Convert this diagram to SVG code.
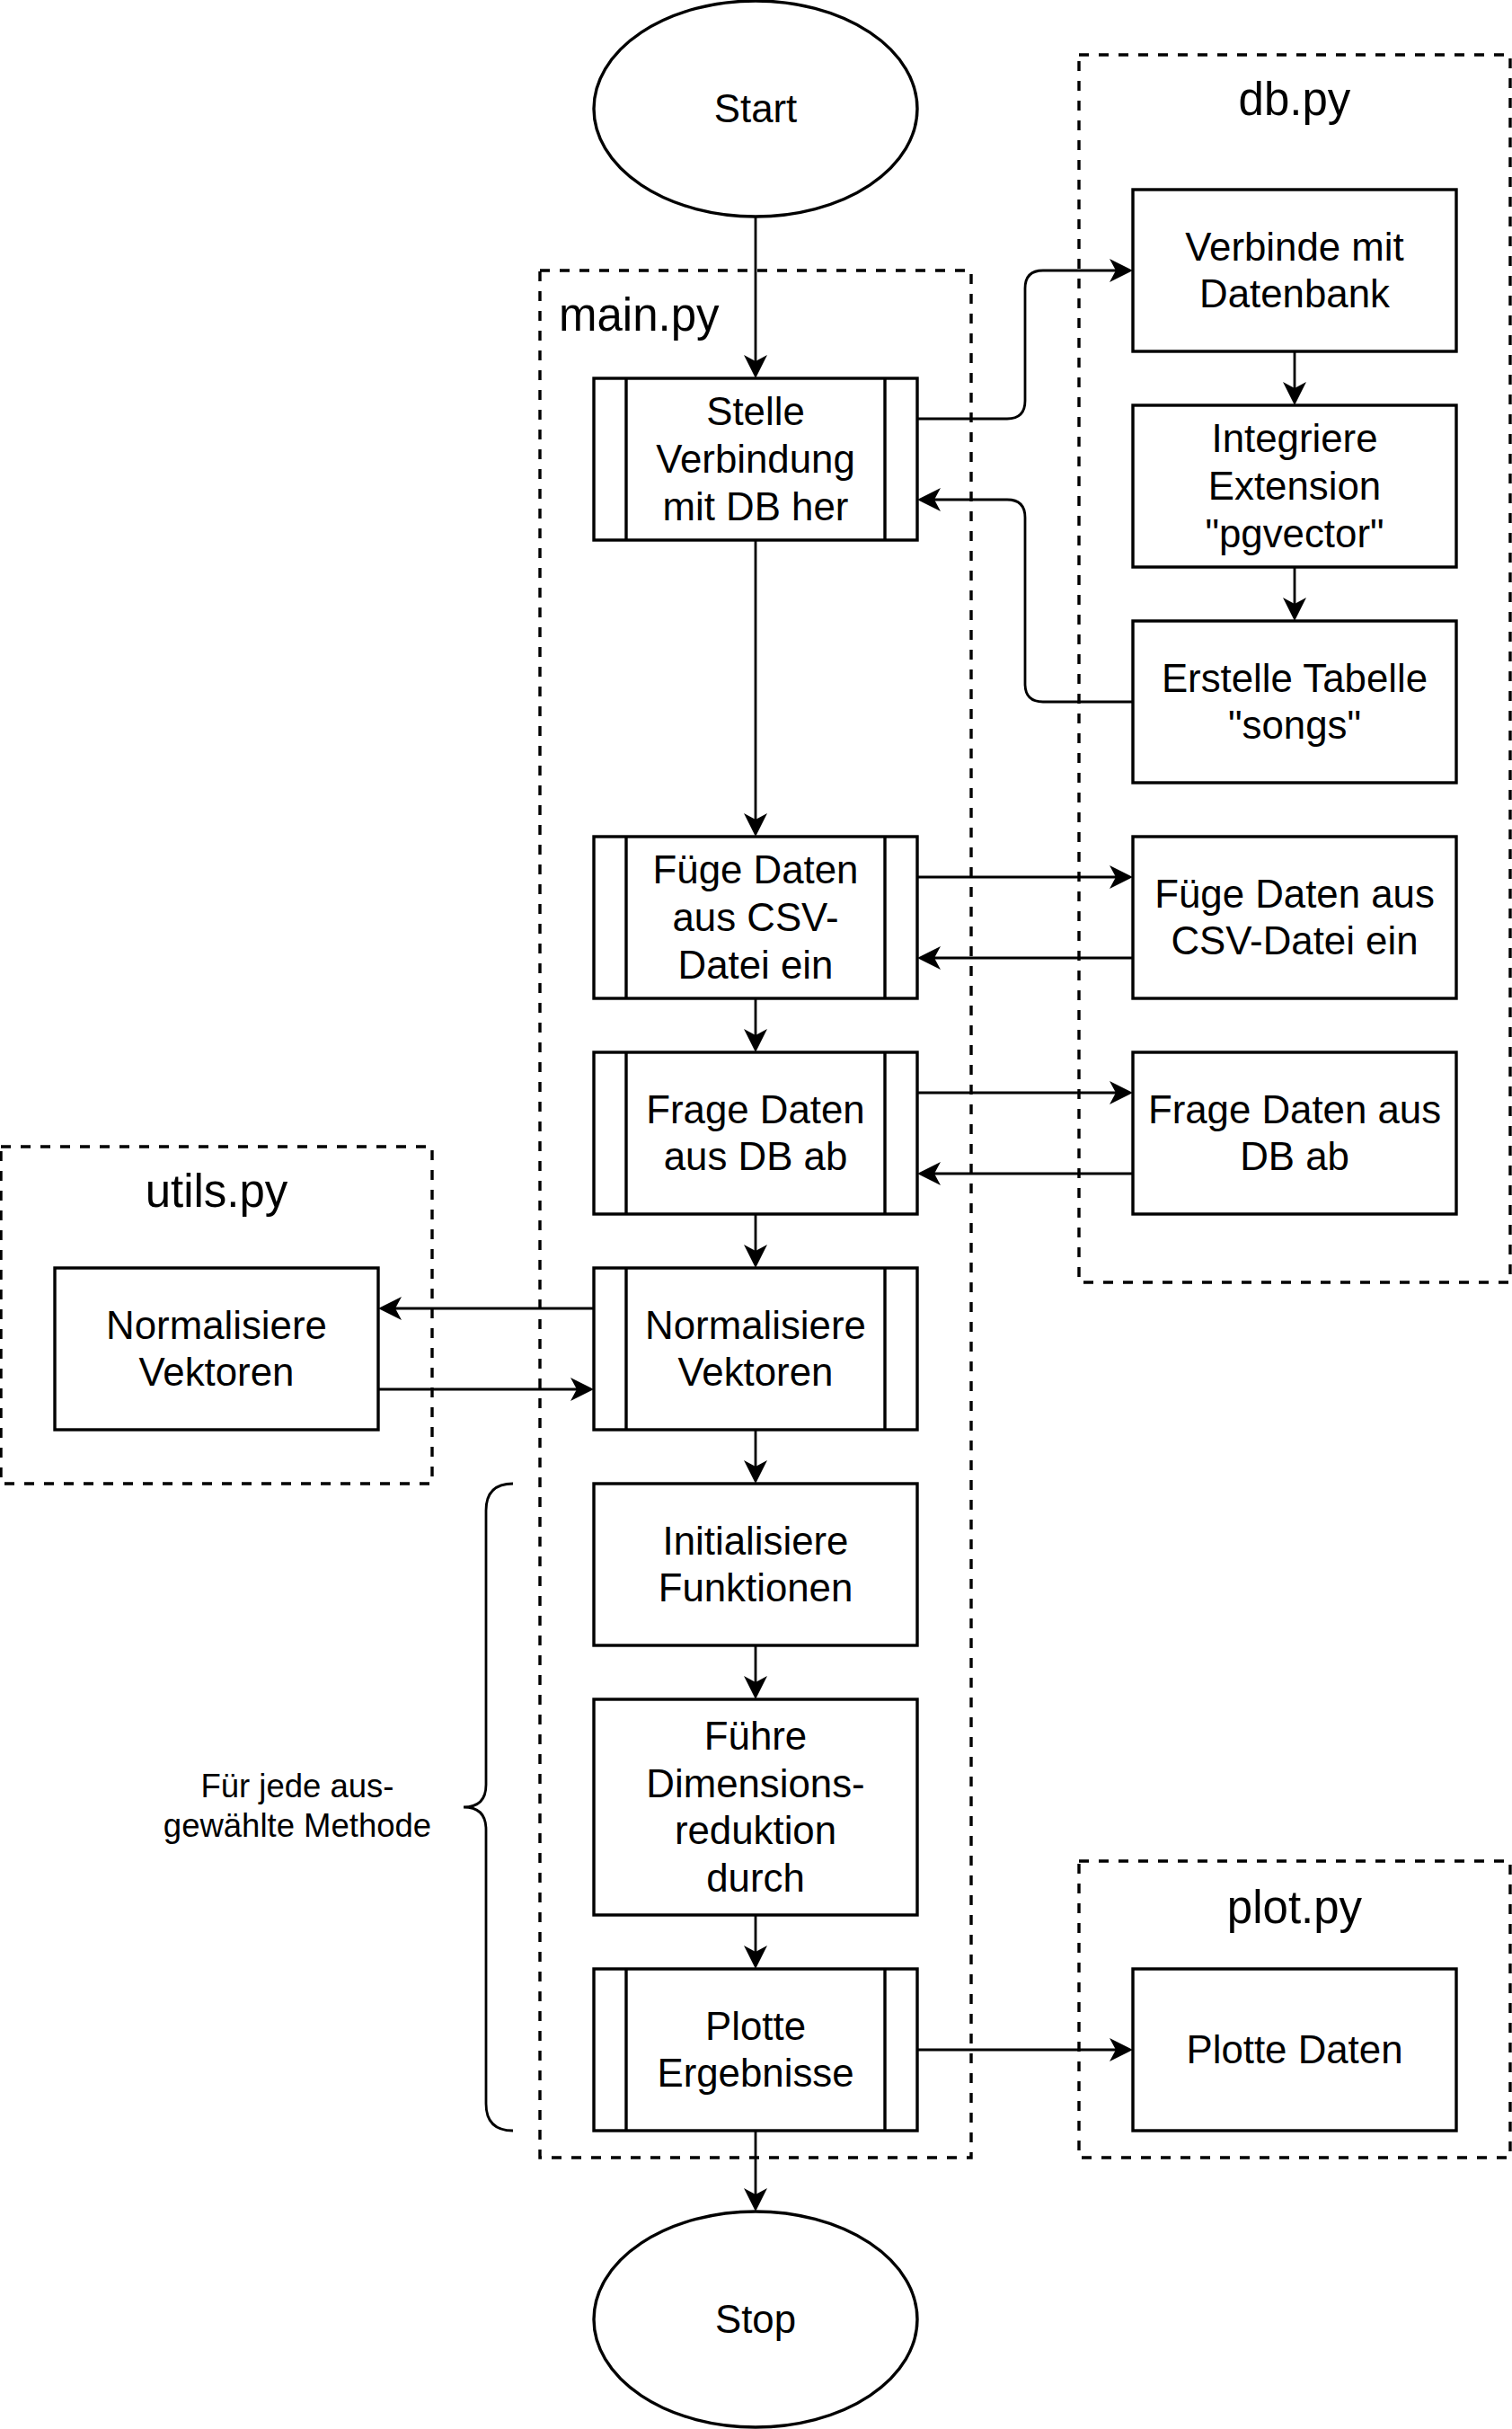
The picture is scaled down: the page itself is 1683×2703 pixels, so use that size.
<svg xmlns="http://www.w3.org/2000/svg" width="1683" height="2703" viewBox="0 0 1683 2703">
<style>
.bg{fill:#fff}
.node{fill:#fff;stroke:#000;stroke-width:3.4}
.inner{fill:none;stroke:#000;stroke-width:3.4}
.grp{fill:none;stroke:#000;stroke-width:3.4;stroke-dasharray:11 11}
.edge{fill:none;stroke:#000;stroke-width:2.8}
.t{font-family:"Liberation Sans",Arial,Helvetica,sans-serif;font-size:43.8px;text-anchor:middle;fill:#000}
.title{font-family:"Liberation Sans",Arial,Helvetica,sans-serif;font-size:51px;fill:#000}
.small{font-family:"Liberation Sans",Arial,Helvetica,sans-serif;font-size:36.5px;text-anchor:middle;fill:#000}
</style>
<defs>
<marker id="arr" markerUnits="userSpaceOnUse" markerWidth="30" markerHeight="30" viewBox="-27 -15 30 30" refX="-19" refY="0" orient="auto">
<path d="M0,0 L-26,-13 L-19,0 L-26,13 Z" fill="#000"/>
</marker>
</defs>
<rect class="bg" x="0" y="0" width="1683" height="2703"/>

<g id="grp-main"><rect class="grp" x="601" y="301" width="480" height="2100"/><text class="title" x="622" y="368">main.py</text></g>
<g id="grp-db"><rect class="grp" x="1201" y="61" width="480" height="1366"/><text class="title" x="1441" y="128" text-anchor="middle">db.py</text></g>
<g id="grp-utils"><rect class="grp" x="1" y="1276" width="480" height="375"/><text class="title" x="241" y="1343" text-anchor="middle">utils.py</text></g>
<g id="grp-plot"><rect class="grp" x="1201" y="2071" width="480" height="330"/><text class="title" x="1441" y="2140" text-anchor="middle">plot.py</text></g>

<g id="connectors">
<path class="edge" d="M841,241 V402" marker-end="url(#arr)"/>
<path class="edge" d="M1021,466 H1121 Q1141,466 1141,446 V321 Q1141,301 1161,301 H1242" marker-end="url(#arr)"/>
<path class="edge" d="M1261,781 H1161 Q1141,781 1141,761 V576 Q1141,556 1121,556 H1040" marker-end="url(#arr)"/>
<path class="edge" d="M1441,391 V432" marker-end="url(#arr)"/>
<path class="edge" d="M1441,631 V672" marker-end="url(#arr)"/>
<path class="edge" d="M841,601 V912" marker-end="url(#arr)"/>
<path class="edge" d="M1021,976 H1242" marker-end="url(#arr)"/>
<path class="edge" d="M1261,1066 H1040" marker-end="url(#arr)"/>
<path class="edge" d="M841,1111 V1152" marker-end="url(#arr)"/>
<path class="edge" d="M1021,1216 H1242" marker-end="url(#arr)"/>
<path class="edge" d="M1261,1306 H1040" marker-end="url(#arr)"/>
<path class="edge" d="M841,1351 V1392" marker-end="url(#arr)"/>
<path class="edge" d="M661,1456 H440" marker-end="url(#arr)"/>
<path class="edge" d="M421,1546 H642" marker-end="url(#arr)"/>
<path class="edge" d="M841,1591 V1632" marker-end="url(#arr)"/>
<path class="edge" d="M841,1831 V1872" marker-end="url(#arr)"/>
<path class="edge" d="M841,2131 V2172" marker-end="url(#arr)"/>
<path class="edge" d="M1021,2281 H1242" marker-end="url(#arr)"/>
<path class="edge" d="M841,2371 V2442" marker-end="url(#arr)"/>
</g>

<g id="start"><ellipse class="node" cx="841" cy="121" rx="180" ry="120"/><text class="t" x="841" y="136">Start</text></g>

<g id="stelle"><rect class="node" x="661" y="421" width="360" height="180"/><path class="inner" d="M697,421 V601 M985,421 V601"/>
<text class="t" x="841" y="473">Stelle</text><text class="t" x="841" y="526">Verbindung</text><text class="t" x="841" y="579">mit DB her</text></g>

<g id="verbinde"><rect class="node" x="1261" y="211" width="360" height="180"/>
<text class="t" x="1441" y="290">Verbinde mit</text><text class="t" x="1441" y="342">Datenbank</text></g>

<g id="integriere"><rect class="node" x="1261" y="451" width="360" height="180"/>
<text class="t" x="1441" y="503">Integriere</text><text class="t" x="1441" y="556">Extension</text><text class="t" x="1441" y="609">"pgvector"</text></g>

<g id="erstelle"><rect class="node" x="1261" y="691" width="360" height="180"/>
<text class="t" x="1441" y="770">Erstelle Tabelle</text><text class="t" x="1441" y="822">"songs"</text></g>

<g id="fuege-main"><rect class="node" x="661" y="931" width="360" height="180"/><path class="inner" d="M697,931 V1111 M985,931 V1111"/>
<text class="t" x="841" y="983">Füge Daten</text><text class="t" x="841" y="1036">aus CSV-</text><text class="t" x="841" y="1089">Datei ein</text></g>

<g id="fuege-db"><rect class="node" x="1261" y="931" width="360" height="180"/>
<text class="t" x="1441" y="1010">Füge Daten aus</text><text class="t" x="1441" y="1062">CSV-Datei ein</text></g>

<g id="frage-main"><rect class="node" x="661" y="1171" width="360" height="180"/><path class="inner" d="M697,1171 V1351 M985,1171 V1351"/>
<text class="t" x="841" y="1250">Frage Daten</text><text class="t" x="841" y="1302">aus DB ab</text></g>

<g id="frage-db"><rect class="node" x="1261" y="1171" width="360" height="180"/>
<text class="t" x="1441" y="1250">Frage Daten aus</text><text class="t" x="1441" y="1302">DB ab</text></g>

<g id="norm-main"><rect class="node" x="661" y="1411" width="360" height="180"/><path class="inner" d="M697,1411 V1591 M985,1411 V1591"/>
<text class="t" x="841" y="1490">Normalisiere</text><text class="t" x="841" y="1542">Vektoren</text></g>

<g id="norm-utils"><rect class="node" x="61" y="1411" width="360" height="180"/>
<text class="t" x="241" y="1490">Normalisiere</text><text class="t" x="241" y="1542">Vektoren</text></g>

<g id="init"><rect class="node" x="661" y="1651" width="360" height="180"/>
<text class="t" x="841" y="1730">Initialisiere</text><text class="t" x="841" y="1782">Funktionen</text></g>

<g id="fuehre"><rect class="node" x="661" y="1891" width="360" height="240"/>
<text class="t" x="841" y="1947">Führe</text><text class="t" x="841" y="2000">Dimensions-</text><text class="t" x="841" y="2052">reduktion</text><text class="t" x="841" y="2105">durch</text></g>

<g id="plotte"><rect class="node" x="661" y="2191" width="360" height="180"/><path class="inner" d="M697,2191 V2371 M985,2191 V2371"/>
<text class="t" x="841" y="2270">Plotte</text><text class="t" x="841" y="2322">Ergebnisse</text></g>

<g id="plotte-daten"><rect class="node" x="1261" y="2191" width="360" height="180"/>
<text class="t" x="1441" y="2296">Plotte Daten</text></g>

<g id="stop"><ellipse class="node" cx="841" cy="2581" rx="180" ry="120"/><text class="t" x="841" y="2596">Stop</text></g>

<g id="brace"><path class="edge" d="M571,1651 Q541,1651 541,1681 V1986 Q541,2011 516,2011 Q541,2011 541,2036 V2341 Q541,2371 571,2371"/>
<text class="small" x="331" y="2000">Für jede aus-</text><text class="small" x="331" y="2044">gewählte Methode</text></g>
</svg>
